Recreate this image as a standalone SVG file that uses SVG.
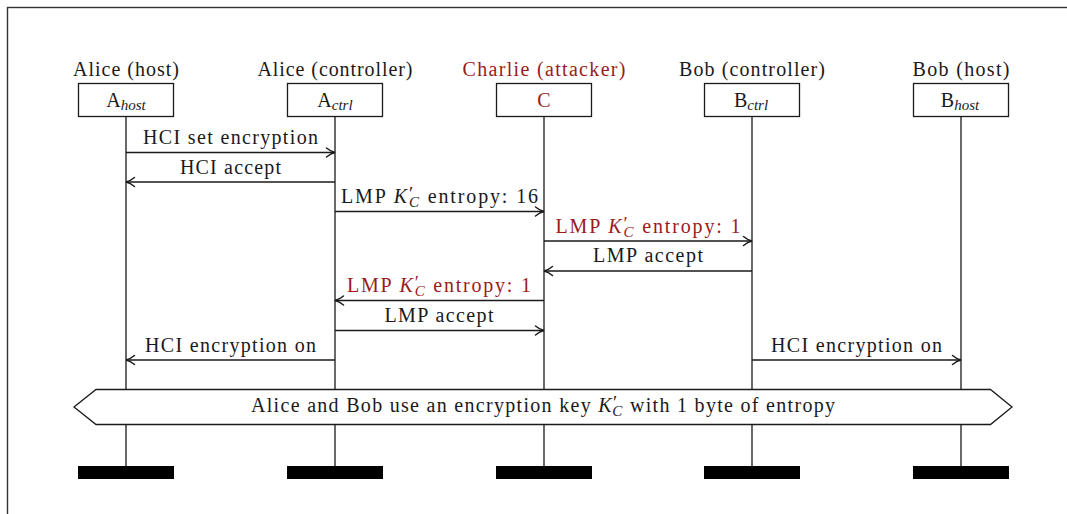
<svg xmlns="http://www.w3.org/2000/svg" width="1067" height="514" viewBox="0 0 1067 514" font-family="'Liberation Serif', 'DejaVu Serif', serif">
<defs>
<marker id="arr" markerUnits="userSpaceOnUse" markerWidth="12" markerHeight="12" viewBox="-10 -6 12 12" refX="0" refY="0" orient="auto" overflow="visible">
<path d="M-8.5,-4.5 C-5.5,-2 -2.5,-0.6 0,0 C-2.5,0.6 -5.5,2 -8.5,4.5" fill="none" stroke="#1a1a1a" stroke-width="1.5" stroke-linecap="round"/>
</marker>
<style>
text{font-family:'Liberation Serif','DejaVu Serif',serif;font-size:20px;fill:#1a1a1a}
.red{fill:#991b1b}
.box{fill:#fff;stroke:#1a1a1a;stroke-width:1.3}
.life{stroke:#1a1a1a;stroke-width:1.3}
.msg{stroke:#1a1a1a;stroke-width:1.3;marker-end:url(#arr);fill:none}
.bar{fill:#000}
.i{font-style:italic}
.sub{font-size:15px;font-style:italic}
.sup{font-size:19px}
</style>
</defs>
<rect x="7.5" y="7.5" width="1080" height="530" fill="none" stroke="#333" stroke-width="1.4"/>

<g id="alice-host">
<text x="126" y="76" text-anchor="middle" textLength="106">Alice (host)</text>
<rect class="box" x="78.5" y="83.5" width="95" height="33"/>
<text x="126" y="107" text-anchor="middle">A<tspan class="sub" dy="3">host</tspan></text>
<line class="life" x1="126" y1="116.5" x2="126" y2="466"/>
<rect class="bar" x="78" y="466" width="96" height="13"/>
</g>
<g id="alice-ctrl">
<text x="335" y="76" text-anchor="middle" textLength="155">Alice (controller)</text>
<rect class="box" x="287.5" y="83.5" width="95" height="33"/>
<text x="335" y="107" text-anchor="middle">A<tspan class="sub" dy="3">ctrl</tspan></text>
<line class="life" x1="335" y1="116.5" x2="335" y2="466"/>
<rect class="bar" x="287" y="466" width="96" height="13"/>
</g>
<g id="charlie">
<text class="red" x="544" y="76" text-anchor="middle" textLength="163">Charlie (attacker)</text>
<rect class="box" x="496.5" y="83.5" width="95" height="33"/>
<text class="red" x="544" y="107" text-anchor="middle">C</text>
<line class="life" x1="544" y1="116.5" x2="544" y2="466"/>
<rect class="bar" x="496" y="466" width="96" height="13"/>
</g>
<g id="bob-ctrl">
<text x="752" y="76" text-anchor="middle" textLength="146">Bob (controller)</text>
<rect class="box" x="704.5" y="83.5" width="95" height="33"/>
<text x="751" y="107" text-anchor="middle">B<tspan class="sub" dy="3">ctrl</tspan></text>
<line class="life" x1="752" y1="116.5" x2="752" y2="466"/>
<rect class="bar" x="704" y="466" width="96" height="13"/>
</g>
<g id="bob-host">
<text x="961" y="76" text-anchor="middle" textLength="97">Bob (host)</text>
<rect class="box" x="913.5" y="83.5" width="95" height="33"/>
<text x="960" y="107" text-anchor="middle">B<tspan class="sub" dy="3">host</tspan></text>
<line class="life" x1="961" y1="116.5" x2="961" y2="466"/>
<rect class="bar" x="913" y="466" width="96" height="13"/>
</g>

<g id="connectors">
<line class="msg" x1="126" y1="152.5" x2="335" y2="152.5"/>
<text x="230.5" y="144" text-anchor="middle" textLength="175">HCI set encryption</text>
<line class="msg" x1="335" y1="182" x2="126" y2="182"/>
<text x="230.5" y="173.5" text-anchor="middle" textLength="101">HCI accept</text>
<line class="msg" x1="335" y1="211.5" x2="544" y2="211.5"/>
<text x="439.5" y="203" text-anchor="middle" textLength="197">LMP <tspan class="i">K</tspan><tspan class="sup" dy="-3">′</tspan><tspan class="sub" dx="-6" dy="7">C</tspan><tspan dy="-4"> entropy: 16</tspan></text>
<line class="msg" x1="544" y1="241" x2="752" y2="241"/>
<text class="red" x="648" y="232.5" text-anchor="middle" textLength="185">LMP <tspan class="i">K</tspan><tspan class="sup" dy="-3">′</tspan><tspan class="sub" dx="-6" dy="7">C</tspan><tspan dy="-4"> entropy: 1</tspan></text>
<line class="msg" x1="752" y1="271" x2="544" y2="271"/>
<text x="648" y="262" text-anchor="middle" textLength="110">LMP accept</text>
<line class="msg" x1="544" y1="300.5" x2="335" y2="300.5"/>
<text class="red" x="439" y="292" text-anchor="middle" textLength="184">LMP <tspan class="i">K</tspan><tspan class="sup" dy="-3">′</tspan><tspan class="sub" dx="-6" dy="7">C</tspan><tspan dy="-4"> entropy: 1</tspan></text>
<line class="msg" x1="335" y1="330.5" x2="544" y2="330.5"/>
<text x="439" y="322" text-anchor="middle" textLength="109">LMP accept</text>
<line class="msg" x1="335" y1="360" x2="126" y2="360"/>
<text x="230.5" y="352" text-anchor="middle" textLength="171">HCI encryption on</text>
<line class="msg" x1="752" y1="360" x2="961" y2="360"/>
<text x="856.5" y="352" text-anchor="middle" textLength="171">HCI encryption on</text>
</g>

<g id="banner">
<polygon points="74,407 96,389.5 990.5,389.5 1012,407 990.5,424.5 96,424.5" fill="#fff" stroke="#1a1a1a" stroke-width="1.3"/>
<text x="543" y="412" text-anchor="middle" textLength="584">Alice and Bob use an encryption key <tspan class="i">K</tspan><tspan class="sup" dy="-3">′</tspan><tspan class="sub" dx="-6" dy="7">C</tspan><tspan dy="-4"> with 1 byte of entropy</tspan></text>
</g>
</svg>
